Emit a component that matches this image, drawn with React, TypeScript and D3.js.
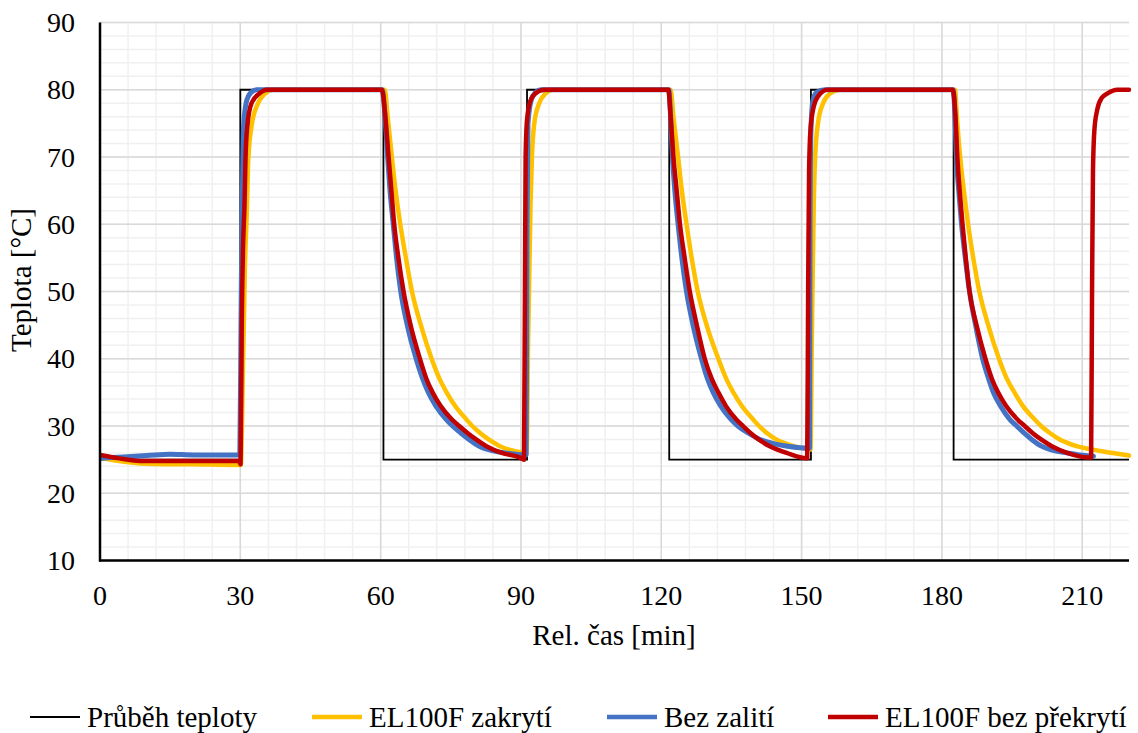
import React from 'react';
import * as d3 from 'd3';

const width = 1138;
const height = 733;
const margin = { left: 100, right: 9, top: 22.5, bottom: 172.5 };
const fontFamily = "'Times New Roman', 'Liberation Serif', Times, 'DejaVu Serif', serif";

// values, [time min, temperature °C]
const stepTimes = [0, 30, 30, 60.6, 60.6, 91.3, 91.3, 121.7, 121.7, 152.0, 152.0, 182.5, 182.5, 220];
const stepValues = [25, 25, 80, 80, 25, 25, 80, 80, 25, 25, 80, 80, 25, 25];

const zakryti = [
  [0, 25.3], [4, 24.8], [10, 24.4], [20, 24.3], [30.1, 24.2],
  [30.6, 40], [31.0, 54], [31.4, 62], [31.7, 69.6], [32.4, 74.6], [33.8, 78], [35.2, 79.4], [37.0, 80],
  [60.9, 80],
  [61.5, 76], [62.4, 70], [63.2, 65], [64.2, 60], [65.4, 55], [66.7, 50], [68.6, 45], [70.9, 40], [72.6, 37], [74.1, 35],
  [75.9, 33], [78.3, 31], [79.6, 30], [81.2, 29], [83.1, 28], [85.5, 27], [87.9, 26.4], [89.8, 26.1], [91.2, 25.9],
  [91.55, 43.5], [92.05, 63], [92.35, 70], [92.85, 75], [93.9, 78], [95.2, 79.4], [96.9, 80],
  [122.0, 80],
  [122.6, 76], [123.6, 70], [124.4, 65], [125.4, 60], [126.5, 55], [127.8, 50], [129.7, 45], [132.2, 40], [133.9, 37], [135.4, 35],
  [137.2, 33], [139.6, 31], [140.9, 30], [142.5, 29], [144.6, 28], [146.2, 27.5], [148.3, 27], [151.0, 26.6], [151.9, 26.5],
  [152.2, 43.5], [152.6, 63], [152.9, 70], [153.5, 75], [154.6, 78], [156.0, 79.4], [158.1, 80],
  [182.8, 80],
  [183.2, 76], [183.9, 70], [184.7, 65], [185.6, 60], [186.7, 55], [188.0, 50], [189.9, 45], [192.2, 40], [193.9, 37], [195.5, 35],
  [197.3, 33], [199.8, 31], [201.2, 30], [203.0, 29], [205.2, 28], [206.8, 27.5], [208.8, 27], [211.5, 26.6], [214.5, 26.2], [217.2, 25.9], [220, 25.6],
];

const bezZaliti = [
  [0, 25.2], [5, 25.4], [10, 25.6], [15, 25.8], [20, 25.7], [29.9, 25.7],
  [30.2, 50], [30.4, 62], [30.7, 74.6], [31.4, 78.5], [32.3, 79.6], [33.5, 80],
  [60.3, 80],
  [60.95, 76], [61.5, 70], [62.0, 65], [62.7, 60], [63.4, 55], [64.3, 50], [65.7, 45], [67.6, 40], [69.0, 37], [70.2, 35],
  [71.8, 33], [74.0, 31], [75.4, 30], [77.1, 29], [78.9, 28], [81.1, 27], [84.1, 26.3], [86.5, 26.0], [89.0, 25.8], [91.1, 25.7],
  [91.3, 60], [91.5, 75], [92.2, 78.5], [93.0, 79.5], [94.4, 80],
  [121.6, 80],
  [122.0, 76], [122.4, 70], [122.9, 65], [123.6, 60], [124.4, 55], [125.4, 50], [126.8, 45], [128.6, 40], [129.9, 37], [131.1, 35],
  [132.7, 33], [134.9, 31], [136.4, 30], [138.5, 29], [141.1, 28], [144.5, 27.3], [147.0, 27.0], [151.7, 26.7],
  [151.8, 60], [152.0, 74], [152.4, 78.3], [153.2, 79.6], [155, 80],
  [182.4, 80],
  [182.8, 76], [183.1, 70], [183.6, 65], [184.2, 60], [185.0, 55], [185.9, 50], [187.2, 45], [188.7, 40], [190.0, 37], [191.0, 35],
  [192.5, 33], [194.5, 31], [196.0, 30], [197.5, 29], [199.2, 28], [201.3, 27], [204.2, 26.3], [206.7, 26], [209.5, 25.7], [212.4, 25.5],
];

const bezPrekryti = [
  [0, 25.7], [5, 25.1], [9.3, 24.8], [29.8, 24.8], [30.05, 24.3],
  [30.3, 45], [30.6, 57], [30.9, 63], [31.1, 69.5], [31.5, 74.6], [32.4, 78], [34.2, 79.5], [35.6, 80],
  [60.3, 80],
  [61.0, 76], [61.7, 70], [62.3, 65], [62.9, 60], [63.8, 55], [64.9, 50], [66.4, 45], [68.4, 40], [69.8, 37], [71.1, 35],
  [72.8, 33], [75.2, 31], [76.8, 30], [78.5, 29], [80.4, 28], [82.6, 27], [85.9, 26], [89.8, 25.3], [90.65, 25.0],
  [90.85, 50], [91.0, 70], [91.3, 75.5], [92.0, 78.3], [93.0, 79.4], [95.0, 80],
  [121.5, 80],
  [122.0, 76], [122.6, 70], [123.3, 65], [124.0, 60], [125.0, 55], [126.1, 50], [127.6, 45], [129.3, 40], [130.8, 37], [132.2, 35],
  [133.8, 33], [136.0, 31], [137.5, 30], [139.0, 29], [140.8, 28], [143.2, 27], [146.8, 26], [151.1, 25.2],
  [151.2, 25.2], [151.4, 50], [151.6, 68], [151.9, 74], [152.6, 77.5], [153.5, 79], [155.5, 80],
  [182.3, 80],
  [182.9, 76], [183.3, 70], [183.8, 65], [184.4, 60], [185.1, 55], [185.9, 50], [187.4, 45], [189.3, 40], [190.7, 37], [192.0, 35],
  [193.7, 33], [196.1, 31], [197.7, 30], [199.3, 29], [201.2, 28], [203.5, 27], [206.8, 26], [211.3, 25.3], [211.9, 25.3],
  [212.1, 50], [212.3, 68], [212.6, 74], [213.2, 77], [214.2, 78.8], [215.5, 79.5], [217.5, 80], [220, 80],
];

const xTicks = [0, 30, 60, 90, 120, 150, 180, 210];
const yTicks = [10, 20, 30, 40, 50, 60, 70, 80, 90];
const xMinor = d3.range(0, 221, 6);
const yMinor = d3.range(10, 91, 2);

const series = [
  { name: 'EL100F zakrytí', data: zakryti, color: '#FFC000', w: 4.5 },
  { name: 'Bez zalití', data: bezZaliti, color: '#4472C4', w: 5 },
  { name: 'EL100F bez překrytí', data: bezPrekryti, color: '#C00000', w: 4.5 },
];

const legend = [
  { name: 'Průběh teploty', color: '#000000', w: 2, x: 30 },
  { name: 'EL100F zakrytí', color: '#FFC000', w: 4.5, x: 312 },
  { name: 'Bez zalití', color: '#4472C4', w: 4.5, x: 607 },
  { name: 'EL100F bez překrytí', color: '#C00000', w: 4.5, x: 828 },
];

const x = d3.scaleLinear().domain([0, 220]).range([margin.left, width - margin.right]);
const y = d3.scaleLinear().domain([10, 90]).range([height - margin.bottom, margin.top]);

const stepLine = d3.line<number>()
  .x((d, i) => x(stepTimes[i]))
  .y(d => y(d));

const curve = d3.line<number[]>()
  .x(d => x(d[0]))
  .y(d => y(d[1]))
  .curve(d3.curveMonotoneX);

const textStyle = { fontFamily, fill: '#000' };

const App = () => (
  <svg width={width} height={height} style={{ position: 'absolute', left: 0, top: 0, background: '#fff' }}>
    <defs>
      <clipPath id="plot">
        <rect x={margin.left} y={0} width={width - margin.right - margin.left + 4} height={height - margin.bottom} />
      </clipPath>
    </defs>
    {/* minor grid */}
    {xMinor.map(t => (
      <line key={'xm' + t} x1={x(t)} x2={x(t)} y1={y(10)} y2={y(90)} stroke="#f0f0f0" strokeWidth={1.5} />
    ))}
    {yMinor.map(v => (
      <line key={'ym' + v} x1={x(0)} x2={x(220)} y1={y(v)} y2={y(v)} stroke="#f0f0f0" strokeWidth={1.5} />
    ))}
    {/* major grid */}
    {xTicks.map(t => (
      <line key={'xg' + t} x1={x(t)} x2={x(t)} y1={y(10)} y2={y(90)} stroke="#d9d9d9" strokeWidth={1.5} />
    ))}
    {yTicks.map(v => (
      <line key={'yg' + v} x1={x(0)} x2={x(220)} y1={y(v)} y2={y(v)} stroke="#d9d9d9" strokeWidth={1.5} />
    ))}

    <g clipPath="url(#plot)">
      <path d={stepLine(stepValues) || ''} fill="none" stroke="#000" strokeWidth={1.8} />
      {series.map(s => (
        <path key={s.name} d={curve(s.data) || ''} fill="none" stroke={s.color} strokeWidth={s.w}
          strokeLinejoin="round" strokeLinecap="round" />
      ))}
    </g>

    {/* axes */}
    <line x1={x(0)} x2={x(0)} y1={y(90)} y2={y(10) + 1} stroke="#000" strokeWidth={2.5} />
    <line x1={x(0) - 1} x2={x(220)} y1={y(10)} y2={y(10)} stroke="#000" strokeWidth={2.5} />

    {yTicks.map(v => (
      <text key={'yt' + v} x={75} y={y(v) + 9.5} textAnchor="end" fontSize={28} style={textStyle}>{v}</text>
    ))}
    {xTicks.map(t => (
      <text key={'xt' + t} x={x(t)} y={605} textAnchor="middle" fontSize={28} style={textStyle}>{t}</text>
    ))}

    <text x={614} y={645} textAnchor="middle" fontSize={29} style={textStyle}>Rel. čas [min]</text>
    <text transform={`translate(31,280) rotate(-90)`} textAnchor="middle" fontSize={29} style={textStyle}>Teplota [°C]</text>

    {legend.map(l => (
      <g key={l.name}>
        <line x1={l.x} x2={l.x + 50} y1={717} y2={717} stroke={l.color} strokeWidth={l.w} />
        <text x={l.x + 57} y={727} fontSize={29} style={textStyle}>{l.name}</text>
      </g>
    ))}
  </svg>
);

export default App;
